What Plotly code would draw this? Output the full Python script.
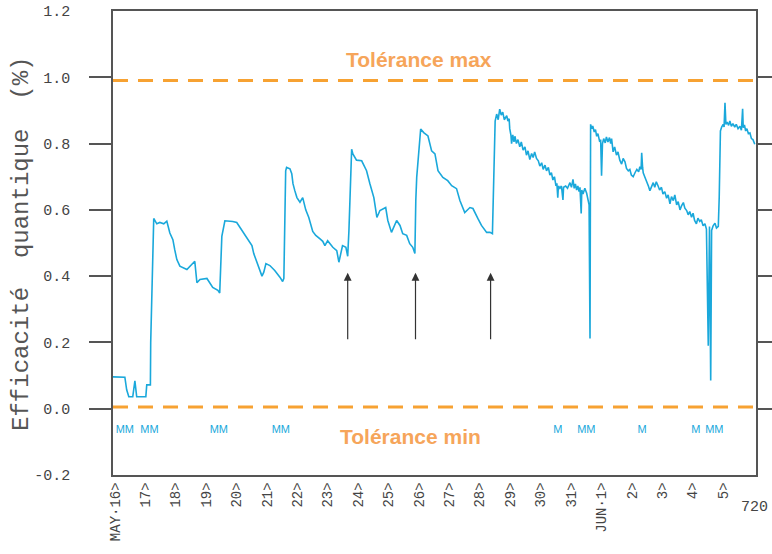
import plotly.graph_objects as go

# ---------------- data ----------------
days = [-0.07, 0.32, 0.38, 0.45, 0.58, 0.65, 0.71, 1.01, 1.04, 1.16, 1.17, 1.24, 1.27,
        1.37, 1.47, 1.60, 1.70, 1.80, 1.90, 1.96, 2.03, 2.13, 2.36, 2.62, 2.69, 2.79,
        3.02, 3.21, 3.38, 3.44, 3.48, 3.51, 3.61, 3.74, 3.87, 4.00, 4.17, 4.34, 4.50,
        4.56, 4.69, 4.83, 4.89, 4.96, 5.09, 5.25, 5.42, 5.51, 5.55, 5.58, 5.61, 5.64,
        5.75, 5.81, 5.85, 5.91, 5.98, 6.08, 6.17, 6.27, 6.37, 6.50, 6.60, 6.73, 6.83,
        6.90, 6.99, 7.16, 7.29, 7.36, 7.48, 7.59, 7.65, 7.69, 7.74, 7.78, 7.82, 7.94,
        8.11, 8.27, 8.38, 8.51, 8.61, 8.71, 8.90, 8.97, 9.09, 9.26, 9.37, 9.46, 9.59,
        9.69, 9.79, 9.86, 9.89, 9.92, 10.05, 10.15, 10.29, 10.41, 10.52, 10.62, 10.78,
        10.94, 11.07, 11.23, 11.34, 11.50, 11.67, 11.77, 11.93, 12.05, 12.22, 12.33,
        12.41, 12.43, 12.47, 12.50,
        12.55, 12.60, 12.65, 12.70, 12.75, 12.80, 12.88, 12.92, 12.96, 12.98, 13.02,
        13.04, 13.08, 13.12, 13.15, 13.20, 13.25, 13.31, 13.36, 13.42, 13.48, 13.53,
        13.58, 13.64, 13.70, 13.75, 13.80, 13.86, 13.92, 13.97, 14.03, 14.08, 14.14,
        14.19, 14.25, 14.30, 14.35, 14.40, 14.45, 14.50, 14.53, 14.56, 14.58, 14.63,
        14.68, 14.73, 14.75, 14.82, 14.88, 14.96, 15.01, 15.06, 15.10, 15.14, 15.18,
        15.22, 15.26, 15.29, 15.33, 15.35, 15.39, 15.45, 15.51, 15.55, 15.59, 15.62,
        15.64, 15.68, 15.71, 15.76, 15.80, 15.84, 15.88, 15.94, 15.97, 16.00, 16.03,
        16.07, 16.12, 16.16, 16.21, 16.26, 16.30, 16.33, 16.38, 16.43, 16.49, 16.54,
        16.60, 16.66, 16.71, 16.77, 16.82, 16.88, 16.93, 16.98, 17.04, 17.10, 17.16,
        17.22, 17.26, 17.30, 17.32, 17.35, 17.37, 17.42, 17.48, 17.54, 17.59, 17.64,
        17.70, 17.75, 17.80, 17.86, 17.91, 17.97, 18.02, 18.08, 18.14, 18.19, 18.25,
        18.30, 18.36, 18.41, 18.47, 18.52, 18.58, 18.63, 18.69, 18.74, 18.80, 18.85,
        18.90, 18.96, 19.01, 19.06, 19.12, 19.17, 19.23, 19.28, 19.34, 19.40, 19.45,
        19.51, 19.55, 19.59, 19.62, 19.67, 19.73, 19.78, 19.84, 19.87,
        19.91, 19.95, 20.00, 20.03, 20.06, 20.09, 20.13, 20.18, 20.22, 20.27, 20.32,
        20.38, 20.43, 20.49, 20.55, 20.60, 20.64, 20.66, 20.70, 20.74, 20.78, 20.83,
        20.88, 20.93, 20.98, 21.04]
efficacite = [0.096, 0.095, 0.057, 0.036, 0.036, 0.084, 0.036, 0.036, 0.072, 0.072, 0.20,
              0.45, 0.574, 0.558, 0.562, 0.558, 0.566, 0.53, 0.51, 0.48, 0.45, 0.43, 0.42,
              0.445, 0.38, 0.39, 0.393, 0.366, 0.357, 0.349, 0.447, 0.52, 0.567, 0.567,
              0.565, 0.562, 0.537, 0.513, 0.492, 0.468, 0.432, 0.40, 0.412, 0.438, 0.432,
              0.417, 0.397, 0.384, 0.393, 0.558, 0.718, 0.728, 0.724, 0.709, 0.679, 0.658,
              0.637, 0.623, 0.637, 0.600, 0.577, 0.535, 0.523, 0.513, 0.505, 0.492, 0.507,
              0.487, 0.477, 0.442, 0.492, 0.487, 0.46, 0.537, 0.709, 0.783, 0.769, 0.75,
              0.748, 0.718, 0.679, 0.637, 0.577, 0.598, 0.607, 0.568, 0.532, 0.568, 0.553,
              0.528, 0.523, 0.498, 0.487, 0.468, 0.628, 0.698, 0.844, 0.833, 0.823, 0.778,
              0.769, 0.718, 0.698, 0.688, 0.673, 0.664, 0.628, 0.592, 0.607, 0.604, 0.574,
              0.553, 0.532, 0.532, 0.528, 0.607, 0.778, 0.868,
              0.889, 0.872, 0.904, 0.886, 0.895, 0.872, 0.884, 0.868, 0.875, 0.845, 0.825,
              0.800, 0.826, 0.805, 0.822, 0.800, 0.812, 0.790, 0.805, 0.780, 0.790, 0.765,
              0.778, 0.752, 0.770, 0.758, 0.775, 0.755, 0.748, 0.732, 0.742, 0.722, 0.735,
              0.718, 0.728, 0.705, 0.712, 0.690, 0.700, 0.672, 0.680, 0.637, 0.672, 0.665,
              0.672, 0.630, 0.668, 0.672, 0.665, 0.682, 0.668, 0.692, 0.665, 0.678, 0.660,
              0.672, 0.655, 0.668, 0.589, 0.660, 0.648, 0.665, 0.650, 0.630, 0.615, 0.212,
              0.858, 0.845, 0.853, 0.835, 0.842, 0.822, 0.830, 0.805, 0.812, 0.703, 0.800,
              0.815, 0.802, 0.820, 0.805, 0.818, 0.800, 0.815, 0.775, 0.790, 0.765, 0.775,
              0.750, 0.738, 0.755, 0.745, 0.725, 0.718, 0.722, 0.705, 0.700, 0.712, 0.722,
              0.715, 0.730, 0.722, 0.772, 0.728, 0.712, 0.700, 0.688, 0.672, 0.658, 0.672,
              0.682, 0.668, 0.685, 0.672, 0.660, 0.668, 0.648, 0.655, 0.635, 0.645, 0.618,
              0.640, 0.628, 0.645, 0.615, 0.625, 0.600, 0.612, 0.622, 0.605, 0.598, 0.585,
              0.595, 0.578, 0.590, 0.568, 0.558, 0.575, 0.565, 0.570, 0.552, 0.558, 0.542,
              0.190, 0.550, 0.085, 0.538, 0.552, 0.560, 0.545, 0.550, 0.637,
              0.838, 0.850, 0.858, 0.850, 0.923, 0.858, 0.865, 0.855, 0.868, 0.852, 0.860,
              0.850, 0.858, 0.845, 0.852, 0.840, 0.905, 0.848, 0.856, 0.838, 0.845, 0.830,
              0.832, 0.815, 0.812, 0.798]

tick_days = list(range(21))
tick_labels = ["MAY·16>", "17>", "18>", "19>", "20>", "21>", "22>", "23>", "24>", "25>",
               "26>", "27>", "28>", "29>", "30>", "31>", "JUN·1>", "2>", "3>", "4>", "5>"]

y_labels = [-0.2, 0.0, 0.2, 0.4, 0.6, 0.8, 1.0, 1.2]
y_ticks = [0.0, 0.2, 0.4, 0.6, 0.8, 1.0]

tol_max = 0.99
tol_min = 0.005

m_days = [0.32, 1.13, 3.41, 5.45, 14.56, 15.50, 17.33, 19.10, 19.71]
m_text = ["MM", "MM", "MM", "MM", "M", "MM", "M", "M", "MM"]
m_level = -0.065

arrow_days = [7.65, 9.88, 12.35]
arrow_tip = 0.41
arrow_tail = 0.205

X_RANGE = [-0.07, 21.08]
Y_RANGE = [-0.2, 1.2]

LINE_C = "#1AA8DB"
ORANGE = "#F7A232"
ORANGE_TXT = "#F6A55A"
AXIS_C = "#555555"
TXT_C = "#444444"
TITLE_C = "#555555"
MONO = "Liberation Mono, DejaVu Sans Mono, monospace"

fig = go.Figure()

fig.add_trace(go.Scatter(x=days, y=efficacite, mode="lines",
                         line=dict(color=LINE_C, width=1.6), showlegend=False,
                         hoverinfo="skip"))

fig.add_trace(go.Scatter(x=m_days, y=[m_level] * len(m_days), mode="text",
                         text=m_text,
                         textfont=dict(family="Liberation Sans, Arial", size=11, color=LINE_C),
                         showlegend=False, hoverinfo="skip"))

# tolerance lines
for lvl in (tol_max, tol_min):
    fig.add_shape(type="line", xref="paper", yref="y", x0=0, x1=1, y0=lvl, y1=lvl,
                  line=dict(color=ORANGE, width=3, dash="15px,10px"), layer="above")

fig.add_annotation(x=10.0, y=1.055, xref="x", yref="y", text="<b>Tolérance max</b>",
                   xanchor="center", yanchor="middle", showarrow=False,
                   font=dict(family="Liberation Sans, Arial", size=21, color=ORANGE_TXT))
fig.add_annotation(x=9.71, y=-0.085, xref="x", yref="y", text="<b>Tolérance min</b>",
                   xanchor="center", yanchor="middle", showarrow=False,
                   font=dict(family="Liberation Sans, Arial", size=21, color=ORANGE_TXT))

for d in arrow_days:
    fig.add_annotation(x=d, y=arrow_tip, ax=d, ay=arrow_tail, xref="x", yref="y",
                       axref="x", ayref="y", text="", showarrow=True,
                       arrowhead=2, arrowsize=1.3, arrowwidth=1.2, arrowcolor="#333333")

# y title
fig.add_annotation(x=-0.1415, y=0.498, xref="paper", yref="paper",
                   xanchor="center", yanchor="middle",
                   text="Efficacité  quantique  (%)", textangle=-90, showarrow=False,
                   font=dict(family=MONO, size=24, color=TITLE_C))
# "720" label
fig.add_annotation(x=0.997, y=-0.069, xref="paper", yref="paper", text="720",
                   xanchor="center", yanchor="middle",
                   showarrow=False, font=dict(family=MONO, size=15, color=TXT_C))

fig.update_layout(
    width=772, height=554,
    margin=dict(l=113, r=16, t=11, b=79),
    paper_bgcolor="white", plot_bgcolor="white",
    xaxis=dict(range=X_RANGE, tickvals=tick_days, ticktext=tick_labels, tickangle=-90,
               showgrid=False, zeroline=False, showline=True, mirror=True, automargin=False,
               linecolor=AXIS_C, linewidth=1.5, ticks="",
               tickfont=dict(family=MONO, size=14, color=TXT_C)),
    yaxis=dict(range=Y_RANGE, tickvals=y_labels, ticktext=[f"{v:.1f}" for v in y_labels],
               showgrid=False, zeroline=False, showline=True, mirror=True, automargin=False,
               linecolor=AXIS_C, linewidth=1.5, ticks="", ticklabelstandoff=38,
               tickfont=dict(family=MONO, size=15, color=TXT_C)),
    yaxis2=dict(range=Y_RANGE, overlaying="y", side="left", tickvals=y_ticks, automargin=False,
                showticklabels=False, ticks="outside", ticklen=23, tickwidth=1.5,
                tickcolor=AXIS_C, showgrid=False, zeroline=False, showline=False),
    yaxis3=dict(range=Y_RANGE, overlaying="y", side="right", tickvals=y_ticks, automargin=False,
                showticklabels=False, ticks="outside", ticklen=16, tickwidth=1.5,
                tickcolor=AXIS_C, showgrid=False, zeroline=False, showline=False),
)
# dummy traces to display the tick-only axes
fig.add_trace(go.Scatter(x=[None], y=[None], yaxis="y2", showlegend=False, hoverinfo="skip"))
fig.add_trace(go.Scatter(x=[None], y=[None], yaxis="y3", showlegend=False, hoverinfo="skip"))

fig.write_html("out.html")
